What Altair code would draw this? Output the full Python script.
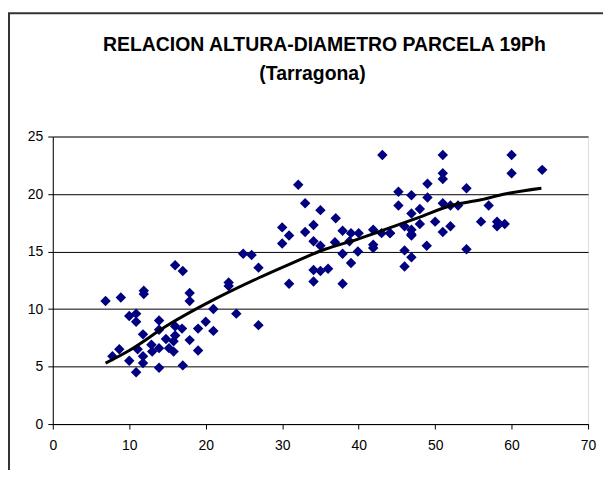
import altair as alt
import pandas as pd

# Diámetro (cm) y altura (m)
diametro = [6.9, 8.9, 11.9, 11.9, 16.0, 17.0, 17.9, 17.9, 21.0, 23.0, 23.0, 24.9, 26.0, 26.9, 24.0, 26.9,
            10.0, 10.9, 10.9, 13.9, 13.9, 11.8, 16.0, 16.9, 16.0, 15.8, 19.0, 20.0, 21.0, 17.9, 19.0,
            12.9, 13.9, 13.0, 15.2, 15.8, 8.7, 7.8, 10.0, 11.1, 11.8, 11.8, 10.9, 13.9, 17.0, 14.8,
            30.0, 30.9, 30.0, 33.0, 34.1, 34.1, 35.0, 30.9, 34.1, 34.1, 35.0, 36.0,
            32.1, 33.0, 35.0, 37.0, 36.9, 37.9, 39.0, 40.0, 38.8, 37.9, 39.9, 39.0, 37.9,
            41.9, 41.9, 41.9, 43.0, 44.1, 43.1,
            45.2, 45.2, 46.0, 46.0, 46.9, 46.0,
            51.0, 60.0, 64.0, 60.0, 51.0, 51.0, 49.0, 46.9, 49.0, 54.1, 48.0, 46.9, 51.0, 52.0,
            53.0, 57.0, 50.0, 48.0, 44.1, 46.9, 46.9, 51.0, 52.0, 56.0, 58.1, 58.1, 59.1,
            48.9, 54.1, 46.9]
altura = [10.7, 11.0, 11.6, 11.3, 13.8, 13.3, 11.4, 10.7, 10.0, 12.3, 12.0, 14.8, 14.7, 13.6, 9.6, 8.6,
          9.4, 9.6, 8.9, 9.0, 8.2, 7.8, 8.5, 8.3, 7.7, 7.2, 8.3, 8.9, 8.1, 7.3, 6.4,
          6.9, 6.6, 6.3, 6.6, 6.3, 6.5, 5.9, 5.5, 6.5, 5.9, 5.3, 4.5, 4.9, 5.1, 7.4,
          17.1, 16.4, 15.7, 16.7, 17.3, 15.9, 15.5, 12.2, 13.4, 12.4, 13.3, 13.5,
          20.8, 19.2, 18.6, 17.9, 15.8, 16.8, 16.6, 16.6, 15.9, 14.8, 15.0, 14.0, 12.2,
          16.9, 15.6, 15.3, 16.6, 16.6, 23.4,
          20.2, 19.0, 17.2, 15.1, 14.5, 13.7,
          23.4, 23.4, 22.1, 21.8, 21.8, 21.3, 20.9, 19.9, 19.7, 20.5, 18.7, 18.3, 19.2, 19.0,
          19.0, 19.0, 17.6, 17.4, 16.6, 16.9, 16.5, 16.7, 17.2, 17.6, 17.6, 17.2, 17.4,
          15.5, 15.2, 16.4]

# Línea de tendencia
tend_x = [6.9, 10.0, 14.8, 21.3, 26.9, 31.3, 35.6, 40.0, 43.4, 48.0, 52.1, 56.0, 59.1, 63.9]
tend_y = [5.3, 6.4, 8.5, 10.9, 12.7, 14.0, 15.2, 16.1, 16.9, 18.0, 19.0, 19.5, 20.0, 20.5]

titulo = ["RELACION ALTURA-DIAMETRO PARCELA 19Ph", "(Tarragona)"]

n = min(len(diametro), len(altura))
puntos = pd.DataFrame({"d": diametro[:n], "h": altura[:n]})
tendencia = pd.DataFrame({"d": tend_x, "h": tend_y})

FONT = "Liberation Sans"

xs = alt.Scale(domain=[0, 70], nice=False, zero=True)
ys = alt.Scale(domain=[0, 25], nice=False, zero=True)

x_axis = alt.Axis(values=list(range(0, 71, 10)), title=None, grid=False, domainColor="black",
                  tickColor="black", tickSize=5, labelFont=FONT, labelFontSize=14,
                  labelColor="black", labelPadding=10, labelFlush=False)
y_axis = alt.Axis(values=list(range(0, 26, 5)), title=None, grid=True, gridColor="black",
                  gridWidth=1, domainColor="black", tickColor="black", tickSize=5,
                  labelFont=FONT, labelFontSize=14, labelColor="black", labelPadding=5)

pts = alt.Chart(puntos).mark_point(shape="diamond", filled=True, size=110, color="#000080",
                                   opacity=1).encode(
    x=alt.X("d:Q", scale=xs, axis=x_axis),
    y=alt.Y("h:Q", scale=ys, axis=y_axis),
)

linea = alt.Chart(tendencia).mark_line(color="black", strokeWidth=3, interpolate="monotone").encode(
    x=alt.X("d:Q", scale=xs),
    y=alt.Y("h:Q", scale=ys),
)

marco = pd.DataFrame({"k": [0]})
borde_izq = alt.Chart(marco).mark_rule(color="#333333", strokeWidth=2).encode(
    x=alt.value(-44), y=alt.value(-124), y2=alt.value(340))
borde_sup = alt.Chart(marco).mark_rule(color="#333333", strokeWidth=2).encode(
    x=alt.value(-45), x2=alt.value(560), y=alt.value(-124))

tit1 = alt.Chart(marco).mark_text(font=FONT, fontSize=19.5, fontWeight="bold", color="black",
                                  align="center", baseline="alphabetic").encode(
    x=alt.value(273), y=alt.value(-86), text=alt.value(titulo[0]))
tit2 = alt.Chart(marco).mark_text(font=FONT, fontSize=19.5, fontWeight="bold", color="black",
                                  align="center", baseline="alphabetic").encode(
    x=alt.value(261), y=alt.value(-57), text=alt.value(titulo[1]))

chart = alt.layer(pts, linea, borde_izq, borde_sup, tit1, tit2).properties(
    width=538, height=289,
    autosize=alt.AutoSizeParams(type="none"),
    padding={"left": 45, "top": 128, "right": 15, "bottom": 45},
).configure_view(stroke="#808080", strokeWidth=1).configure(background="white")

chart.save("out.html", embed_options={"renderer": "svg", "actions": False})
